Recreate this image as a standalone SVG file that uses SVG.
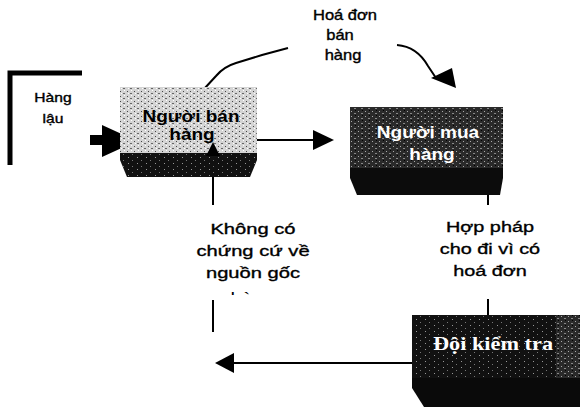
<svg xmlns="http://www.w3.org/2000/svg" width="580" height="407" viewBox="0 0 580 407">
<style>
.t{font-family:"Liberation Sans",Arial,sans-serif;fill:#000;text-anchor:middle}
.s{stroke:#000;stroke-width:0.35}
.w{fill:#fff}
.ln{stroke:#000;stroke-width:2;fill:none}
</style>
<defs>
<pattern id="pl" width="7" height="5" patternUnits="userSpaceOnUse">
<rect width="7" height="5" fill="#d4d4d4"/>
<rect x="1" y="1" width="1" height="1" fill="#444"/>
<rect x="4" y="3" width="2" height="1" fill="#666"/>
<rect x="5" y="0" width="1" height="1" fill="#fff"/>
<rect x="2" y="3" width="1" height="1" fill="#fff"/>
</pattern>
<pattern id="pd" width="7" height="5" patternUnits="userSpaceOnUse">
<rect width="7" height="5" fill="#2a2a2a"/>
<rect x="1" y="1" width="1" height="1" fill="#aaa"/>
<rect x="4" y="3" width="2" height="1" fill="#888"/>
<rect x="5" y="0" width="1" height="1" fill="#000"/>
</pattern>
<pattern id="pk" width="9" height="6" patternUnits="userSpaceOnUse">
<rect width="9" height="6" fill="#111"/>
<rect x="2" y="1" width="1" height="1" fill="#999"/>
<rect x="6" y="4" width="1" height="1" fill="#777"/>
</pattern>
<clipPath id="cut"><rect x="200" y="286" width="110" height="9"/></clipPath>
</defs>

<g id="hang-lau">
<path d="M10,165 V73 H82" stroke="#000" stroke-width="5" fill="none"/>
<text class="t s" font-size="12" transform="translate(53 102) scale(1.3 1)">Hàng</text>
<text class="t s" font-size="12" transform="translate(53 123) scale(1.3 1)">lậu</text>
</g>

<g id="connectors">
<path d="M90,140 H105" stroke="#000" stroke-width="10"/>
<polygon points="102,125 137,141 102,157" fill="#000"/>
<path class="ln" d="M257,140 H316"/>
<polygon points="313,130 334,140 313,150" fill="#000"/>
<path class="ln" d="M204,89 L216,76 C221,70 226,66 236,63 L262,55 L288,48"/>
<path class="ln" d="M397,45 C410,46 420,52 428,66 L436,78"/>
<polygon points="431,78 452,68 456,88" fill="#000"/>
<path class="ln" d="M213,332 V150"/>
<path class="ln" d="M488,195 V316"/>
<path class="ln" d="M413,363 H230"/>
<polygon points="215,363 234,353 234,373" fill="#000"/>
</g>

<g id="nguoi-ban-hang">
<rect x="120" y="87" width="137" height="70" fill="url(#pl)"/>
<polygon points="120,153 257,153 257,160 250,177 127,177 120,160" fill="url(#pk)"/>
<polygon points="206,156 213,142 220,156" fill="#000"/>
<text class="t" font-size="17" font-weight="bold" transform="translate(191 122) scale(1.12 1)">Người bán</text>
<text class="t" font-size="17" font-weight="bold" transform="translate(192 140) scale(1.12 1)">hàng</text>
</g>

<g id="hoa-don-ban-hang">
<text class="t s" font-size="14" transform="translate(345 20) scale(1.18 1)">Hoá đơn</text>
<text class="t s" font-size="14" transform="translate(340 40) scale(1.18 1)">bán</text>
<text class="t s" font-size="14" transform="translate(343 60) scale(1.18 1)">hàng</text>
</g>

<g id="nguoi-mua-hang">
<rect x="350" y="107" width="153" height="64" fill="url(#pd)"/>
<polygon points="350,168 503,168 503,178 500,195 357,195 350,178" fill="#0c0c0c"/>
<text class="t w" font-size="17" font-weight="bold" transform="translate(428 138) scale(1.12 1)">Người mua</text>
<text class="t w" font-size="17" font-weight="bold" transform="translate(432 160) scale(1.12 1)">hàng</text>
</g>

<g id="khong-co-chung-cu">
<rect x="195" y="205" width="120" height="95" fill="#fff"/>
<text class="t s" font-size="15.5" transform="translate(253 234) scale(1.3 1)">Không có</text>
<text class="t s" font-size="15.5" transform="translate(253 256) scale(1.3 1)">chứng cứ về</text>
<text class="t s" font-size="15.5" transform="translate(253 278) scale(1.3 1)">nguồn gốc</text>
<g clip-path="url(#cut)"><text class="t" font-size="15.5" transform="translate(253 303) scale(1.3 1)">hàng</text></g>
</g>

<g id="hop-phap">
<rect x="440" y="205" width="100" height="94" fill="#fff"/>
<text class="t s" font-size="15.5" transform="translate(490 232) scale(1.28 1)">Hợp pháp</text>
<text class="t s" font-size="15.5" transform="translate(490 254) scale(1.28 1)">cho đi vì có</text>
<text class="t s" font-size="15.5" transform="translate(490 276) scale(1.28 1)">hoá đơn</text>
</g>

<g id="doi-kiem-tra">
<rect x="412" y="315" width="168" height="65" fill="url(#pk)"/>
<rect x="556" y="315" width="24" height="65" fill="url(#pd)"/>
<polygon points="412,378 580,378 580,407 424,407 412,388" fill="#0a0a0a"/>
<text font-family="'Liberation Serif','Times New Roman',serif" font-size="18" font-weight="bold" fill="#fff" text-anchor="middle" transform="translate(493 350) scale(1.24 1)">Đội kiểm tra</text>
</g>
</svg>
